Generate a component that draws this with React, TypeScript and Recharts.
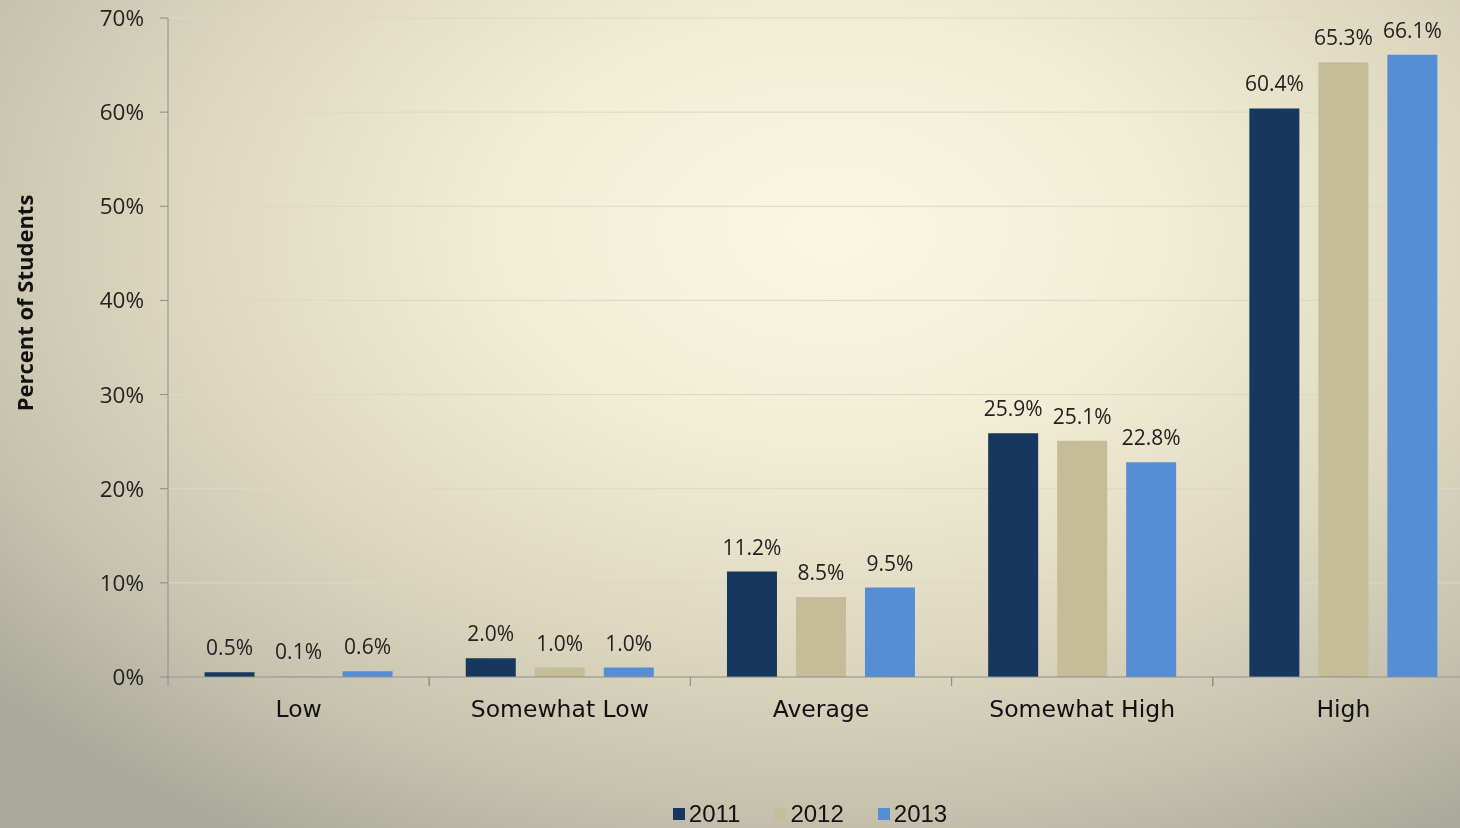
import React from 'react';
import { BarChart, Bar, XAxis, YAxis, CartesianGrid, Legend, LabelList } from 'recharts';

const categories = ['Low', 'Somewhat Low', 'Average', 'Somewhat High', 'High'];
const values2011 = [0.5, 2.0, 11.2, 25.9, 60.4];
const values2012 = [0.1, 1.0, 8.5, 25.1, 65.3];
const values2013 = [0.6, 1.0, 9.5, 22.8, 66.1];
const yTicks = [0, 10, 20, 30, 40, 50, 60, 70];

const COLORS = {
  y2011: '#17375E',
  y2012: '#C4BD97',
  y2013: '#558ED5',
};

const data = categories.map((name, i) => ({
  name,
  y2011: values2011[i],
  y2012: values2012[i],
  y2013: values2013[i],
}));

const series = [
  { key: 'y2011', label: '2011' },
  { key: 'y2012', label: '2012' },
  { key: 'y2013', label: '2013' },
];

// category label, tick marks go on the band edges (Excel style)
function CategoryTick(props: any) {
  const { x, y, payload } = props;
  const half = payload.offset || 0;
  return (
    <g>
      <line x1={x - half} x2={x - half} y1={y - 8} y2={y + 1} stroke="#8c8c8c" />
      <line x1={x + half} x2={x + half} y1={y - 8} y2={y + 1} stroke="#8c8c8c" />
      <text
        x={x}
        y={y + 32}
        textAnchor="middle"
        fill="#111"
        fontSize={23.5}
        fontFamily='"DejaVu Sans", sans-serif'
      >
        {payload.value}
      </text>
    </g>
  );
}

function LegendContent() {
  return (
    <div style={{ display: 'flex', justifyContent: 'center', gap: 34, fontFamily: '"Liberation Sans", Arial, sans-serif', fontSize: 24, color: '#111' }}>
      {series.map((s) => (
        <div key={s.key} style={{ display: 'flex', alignItems: 'center' }}>
          <span style={{ display: 'inline-block', width: 12, height: 12, background: COLORS[s.key as keyof typeof COLORS], marginRight: 4 }} />
          {s.label}
        </div>
      ))}
    </div>
  );
}

export default function App() {
  return (
    <div
      style={{
        position: 'fixed',
        left: 0,
        top: 0,
        width: 1460,
        height: 828,
        overflow: 'hidden',
        background: 'radial-gradient(ellipse 75% 85% at 57% 28%, #faf7e2 0%, #f2edd5 30%, #ddd7bf 60%, #c6c2ae 82%, #acaa9a 100%)',
      }}
    >
      <div
        style={{
          position: 'absolute',
          left: 24,
          top: 303,
          transform: 'translate(-50%, -50%) rotate(-90deg)',
          fontFamily: '"Open Sans", sans-serif',
          fontWeight: 700,
          fontSize: 22,
          color: '#111',
          whiteSpace: 'nowrap',
        }}
      >
        Percent of Students
      </div>
      <BarChart
        width={1490}
        height={828}
        data={data}
        margin={{ top: 18, right: 16, left: 0, bottom: 0 }}
        barCategoryGap="14%"
        barGap={19}
      >
        <CartesianGrid vertical={false} stroke="#dcd8c6" strokeWidth={1} />
        <XAxis
          dataKey="name"
          axisLine={{ stroke: '#8c8c8c' }}
          tickLine={false}
          tick={<CategoryTick />}
          tickSize={8}
          tickMargin={0}
          interval={0}
          height={151}
        />
        <YAxis
          domain={[0, 70]}
          ticks={yTicks}
          tickFormatter={(v: number) => `${v}%`}
          axisLine={{ stroke: '#8c8c8c' }}
          tickLine={{ stroke: '#8c8c8c' }}
          tickSize={8}
          tick={{ fill: '#222', fontSize: 22.5, fontFamily: '"Open Sans", sans-serif' }}
          tickMargin={16}
          width={168}
        />
        <Legend
          layout="horizontal"
          verticalAlign="middle"
          align="center"
          content={<LegendContent />}
          wrapperStyle={{ left: 560, top: 800, width: 500 }}
        />
        {series.map((s) => (
          <Bar key={s.key} dataKey={s.key} fill={COLORS[s.key as keyof typeof COLORS]} isAnimationActive={false}>
            <LabelList
              dataKey={s.key}
              position="top"
              offset={17}
              formatter={(v: number) => `${v.toFixed(1)}%`}
              style={{ fill: '#222', fontSize: 21, fontFamily: '"Open Sans", sans-serif' }}
            />
          </Bar>
        ))}
      </BarChart>
    </div>
  );
}
